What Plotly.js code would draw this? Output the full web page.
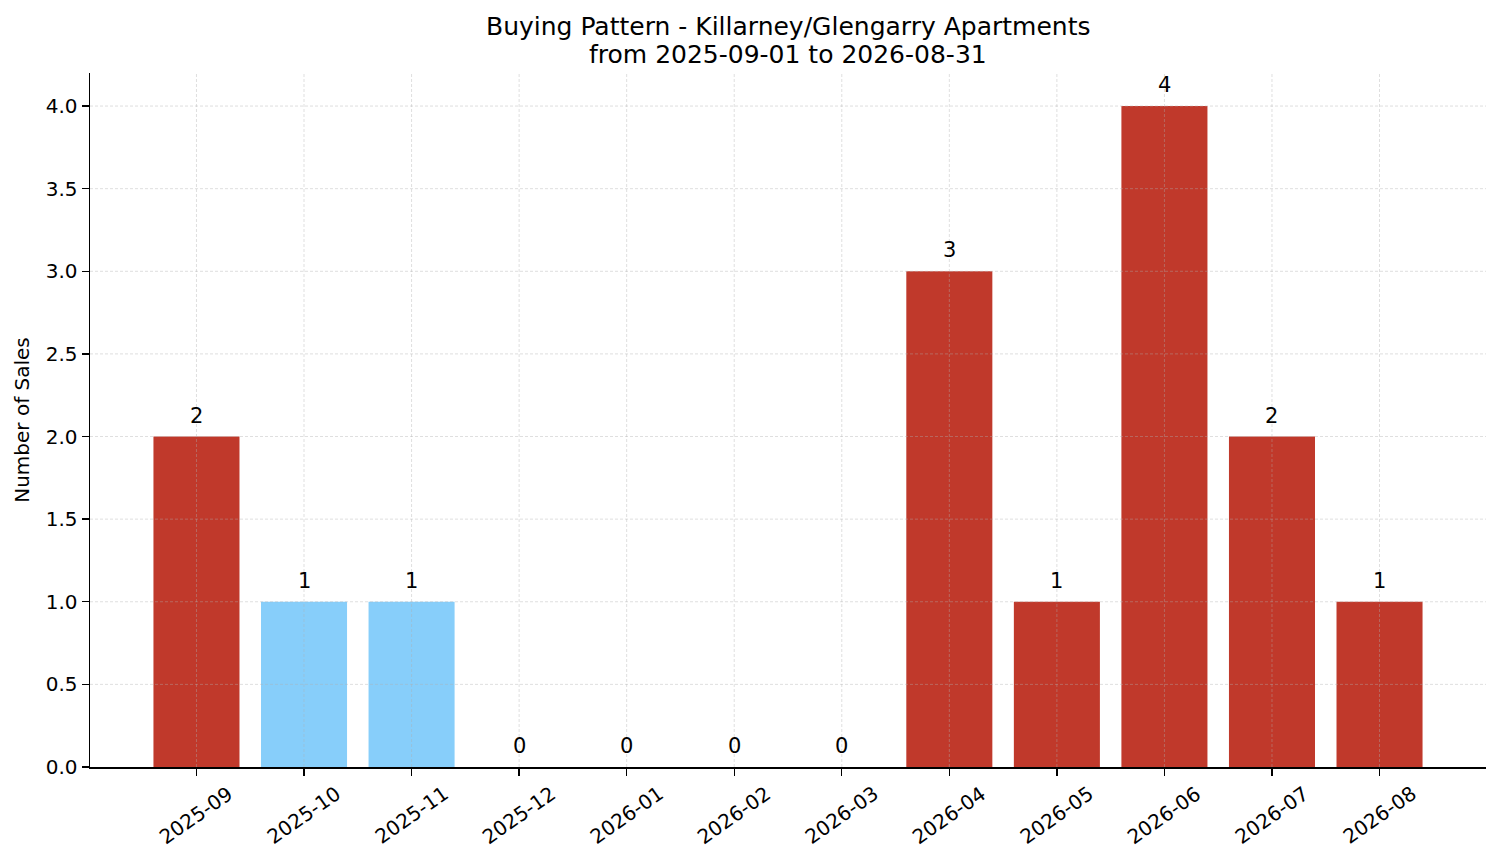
<!DOCTYPE html>
<html>
<head>
<meta charset="utf-8">
<script src="https://cdn.plot.ly/plotly-3.0.1.min.js"></script>
<style>
  html, body { margin: 0; padding: 0; background: #fff; }
  #chart { width: 1501px; height: 863px; }
</style>
</head>
<body>
<div id="chart"></div>
<script>
// data
var months = ['2025-09', '2025-10', '2025-11', '2025-12', '2026-01', '2026-02',
              '2026-03', '2026-04', '2026-05', '2026-06', '2026-07', '2026-08'];
var sales = [2, 1, 1, 0, 0, 0, 0, 3, 1, 4, 2, 1];
var highlighted = ['2025-10', '2025-11'];
var yTicks = [0, 0.5, 1, 1.5, 2, 2.5, 3, 3.5, 4];
var titleLines = ['Buying Pattern - Killarney/Glengarry Apartments', 'from 2025-09-01 to 2026-08-31'];

var RED = '#c0392b';
var BLUE = '#87cefa';
var FONT = 'DejaVu Sans, sans-serif';
var GRID = { color: 'rgba(176,176,176,0.5)', width: 0.8, dash: '3px,2px' };

function buying_pattern() {
    var idx = months.map(function (m, i) { return i; });

    var bars = {
        x: idx,
        y: sales,
        type: 'bar',
        width: 0.8,
        marker: { color: months.map(function (m) { return highlighted.indexOf(m) >= 0 ? BLUE : RED; }) },
        hoverinfo: 'x+y',
        showlegend: false
    };

    // grid drawn on top of the bars, like the original
    var shapes = [];
    yTicks.forEach(function (v) {
        if (v === 0) return;
        shapes.push({ type: 'line', layer: 'above', xref: 'paper', yref: 'y', x0: 0, x1: 1, y0: v, y1: v, line: GRID });
    });
    idx.forEach(function (i) {
        shapes.push({ type: 'line', layer: 'above', xref: 'x', yref: 'paper', x0: i, x1: i, y0: 0, y1: 1, line: GRID });
    });

    var annotations = [];

    // value labels above each bar
    sales.forEach(function (v, i) {
        annotations.push({
            x: i, y: v, xref: 'x', yref: 'y',
            text: String(v), showarrow: false,
            xanchor: 'center', yanchor: 'middle', yshift: 21,
            font: { size: 21, color: '#000', family: FONT }
        });
    });

    // rotated month labels centred under each tick
    months.forEach(function (m, i) {
        annotations.push({
            x: i, y: 0, xref: 'x', yref: 'paper',
            text: m, showarrow: false, textangle: -35,
            xanchor: 'center', yanchor: 'middle', yshift: -48,
            font: { size: 20, color: '#000', family: FONT }
        });
    });

    // two-line title over the plot area
    annotations.push({
        x: 0.5, y: 1, xref: 'paper', yref: 'paper', text: titleLines[0], showarrow: false,
        xanchor: 'center', yanchor: 'middle', yshift: 47,
        font: { size: 25, color: '#000', family: FONT }
    });
    annotations.push({
        x: 0.5, y: 1, xref: 'paper', yref: 'paper', text: titleLines[1], showarrow: false,
        xanchor: 'center', yanchor: 'middle', yshift: 19,
        font: { size: 25, color: '#000', family: FONT }
    });

    var layout = {
        width: 1501,
        height: 863,
        margin: { t: 73, b: 96, l: 90, r: 15 },
        paper_bgcolor: '#fff',
        plot_bgcolor: '#fff',
        font: { family: FONT, size: 20, color: '#000' },
        xaxis: {
            range: [-0.99, 11.99],
            tickvals: idx,
            ticktext: months.map(function () { return ''; }),
            ticks: 'outside', ticklen: 7, tickwidth: 1.3, tickcolor: '#000',
            showgrid: false, zeroline: false,
            showline: true, linecolor: '#000', linewidth: 1.5,
            fixedrange: true
        },
        yaxis: {
            range: [0, 4.2],
            tickvals: yTicks,
            tickformat: '.1f',
            ticks: 'outside', ticklen: 7, tickwidth: 1.3, tickcolor: '#000',
            tickfont: { size: 20 },
            showgrid: false, zeroline: false,
            showline: true, linecolor: '#000', linewidth: 1.5,
            title: { text: 'Number of Sales', font: { size: 20 }, standoff: 10 },
            fixedrange: true
        },
        shapes: shapes,
        annotations: annotations,
        bargap: 0.2
    };

    Plotly.newPlot('chart', [bars], layout, { displayModeBar: false, staticPlot: true });
}

buying_pattern();
</script>
</body>
</html>
